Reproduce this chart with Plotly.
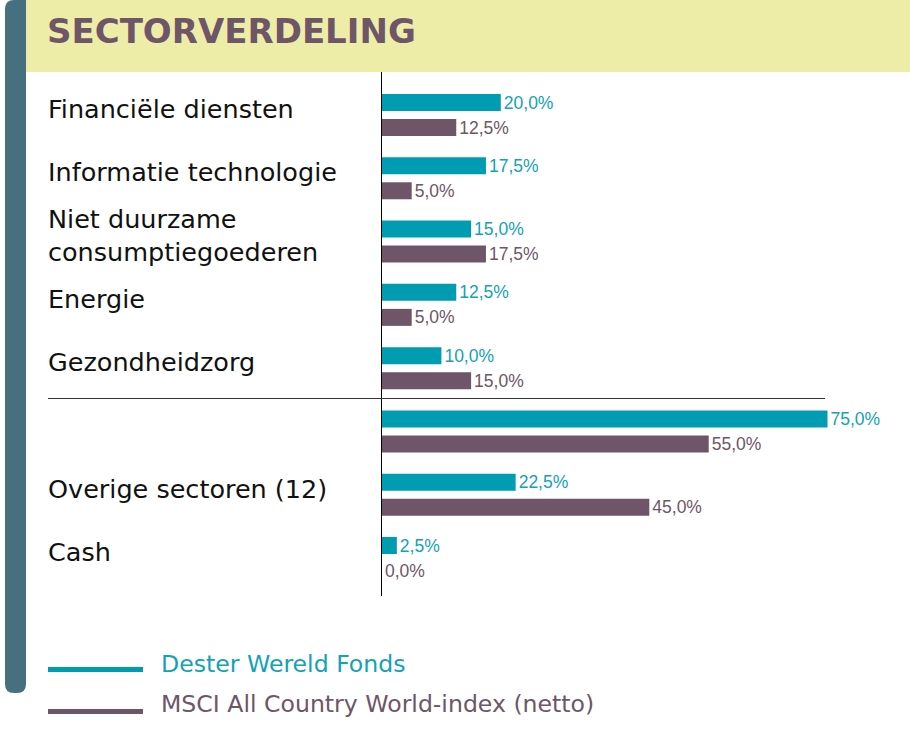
import plotly.graph_objects as go

# ---------------- data ----------------
title_text = "SECTORVERDELING"
categories = [
    "Financiële diensten",
    "Informatie technologie",
    "Niet duurzame<br>consumptiegoederen",
    "Energie",
    "Gezondheidzorg",
    "",
    "Overige sectoren (12)",
    "Cash",
]
fund = [20.0, 17.5, 15.0, 12.5, 10.0, 75.0, 22.5, 2.5]
msci = [12.5, 5.0, 17.5, 5.0, 15.0, 55.0, 45.0, 0.0]
series_names = ["Dester Wereld Fonds", "MSCI All Country World-index (netto)"]

# ---------------- style ----------------
W, H = 910, 729
TEAL = "#009cb2"
TEAL_TXT = "#13a2b6"
PURPLE = "#6e5668"
BANNER = "#eeeda8"
SIDEBAR = "#466f80"
LABEL_FONT = "DejaVu Sans, Verdana, sans-serif"
VALUE_FONT = "Liberation Sans, Arial, sans-serif"


def px(x):
    return x / W


def py(y):
    return 1 - y / H


def fmt(v):
    return f"{v:.1f}%".replace(".", ",")


pos = list(range(len(categories)))

fig = go.Figure()
fig.add_trace(go.Bar(
    x=fund, y=pos, orientation="h", name=series_names[0],
    marker=dict(color=TEAL, line=dict(width=0)),
    text=[fmt(v) for v in fund], textposition="outside",
    textfont=dict(color=TEAL_TXT, size=17.5, family=VALUE_FONT),
    constraintext="none",
    cliponaxis=False, showlegend=False, hoverinfo="skip",
))
fig.add_trace(go.Bar(
    x=msci, y=pos, orientation="h", name=series_names[1],
    marker=dict(color=PURPLE, line=dict(width=0)),
    text=[fmt(v) for v in msci], textposition="outside",
    textfont=dict(color=PURPLE, size=17.5, family=VALUE_FONT),
    constraintext="none",
    cliponaxis=False, showlegend=False, hoverinfo="skip",
))

# plot area geometry (pixels)
x0_px, x_scale = 382, 5.94          # pixel of zero, pixels per percent
top_px, bot_px = 72, 596
c0_px, c7_px = 115, 558
unit = (c7_px - c0_px) / (len(categories) - 1)
y_top = 0 - (c0_px - top_px) / unit
y_bot = (len(categories) - 1) + (bot_px - c7_px) / unit

shapes = []
# banner
shapes.append(dict(type="rect", xref="paper", yref="paper",
                   x0=px(26), x1=px(910), y0=py(72), y1=py(0),
                   fillcolor=BANNER, line=dict(width=0), layer="below"))
# sidebar with rounded corners
r = 9
xa, xb, ya, yb = 5, 26, 0, 693
path = (f"M {px(xa)},{py(ya + r)} Q {px(xa)},{py(ya)} {px(xa + r)},{py(ya)} "
        f"L {px(xb)},{py(ya)} L {px(xb)},{py(yb - r)} "
        f"Q {px(xb)},{py(yb)} {px(xb - r)},{py(yb)} "
        f"L {px(xa + r)},{py(yb)} Q {px(xa)},{py(yb)} {px(xa)},{py(yb - r)} Z")
shapes.append(dict(type="path", xref="paper", yref="paper", path=path,
                   fillcolor=SIDEBAR, line=dict(width=0), layer="above"))
# separator line
shapes.append(dict(type="line", xref="paper", yref="paper",
                   x0=px(48), x1=px(825), y0=py(398.5), y1=py(398.5),
                   line=dict(color="#333333", width=1)))
# legend lines
for i, col in enumerate([TEAL, PURPLE]):
    yy = 669.5 + i * 42
    shapes.append(dict(type="line", xref="paper", yref="paper",
                       x0=px(48), x1=px(143), y0=py(yy), y1=py(yy),
                       line=dict(color=col, width=5)))

annotations = []
annotations.append(dict(text=f"<b>{title_text}</b>", xref="paper", yref="paper",
                        x=px(45), y=py(31), xanchor="left", yanchor="middle",
                        showarrow=False,
                        font=dict(family="DejaVu Sans, sans-serif", size=34, color="#6e5668")))
for i, c in enumerate(categories):
    if not c:
        continue
    annotations.append(dict(text=c, xref="paper", yref="y", x=px(46), y=i,
                            xanchor="left", yanchor="middle", align="left",
                            yshift=6, showarrow=False,
                            font=dict(family=LABEL_FONT, size=25.5, color="#111111")))
for i, (n, col) in enumerate(zip(series_names, [TEAL_TXT, PURPLE])):
    annotations.append(dict(text=n, xref="paper", yref="paper",
                            x=px(159), y=py(664 + i * 40), xanchor="left", yanchor="middle",
                            showarrow=False,
                            font=dict(family=LABEL_FONT, size=23.6, color=col)))

fig.update_layout(
    width=W, height=H,
    margin=dict(l=0, r=0, t=0, b=0),
    paper_bgcolor="white", plot_bgcolor="rgba(0,0,0,0)",
    barmode="group", bargap=0.21, bargroupgap=0.32,
    shapes=shapes, annotations=annotations,
    xaxis=dict(domain=[px(x0_px), 1], range=[0, (W - x0_px) / x_scale],
               showgrid=False, zeroline=False, showline=False,
               showticklabels=False, ticks=""),
    yaxis=dict(domain=[py(bot_px), py(top_px)], range=[y_bot, y_top],
               showgrid=False, zeroline=False, showline=True,
               linecolor="#000000", linewidth=1,
               showticklabels=False, ticks=""),
    uniformtext=dict(mode=False),
)

fig.write_html("out.html")
